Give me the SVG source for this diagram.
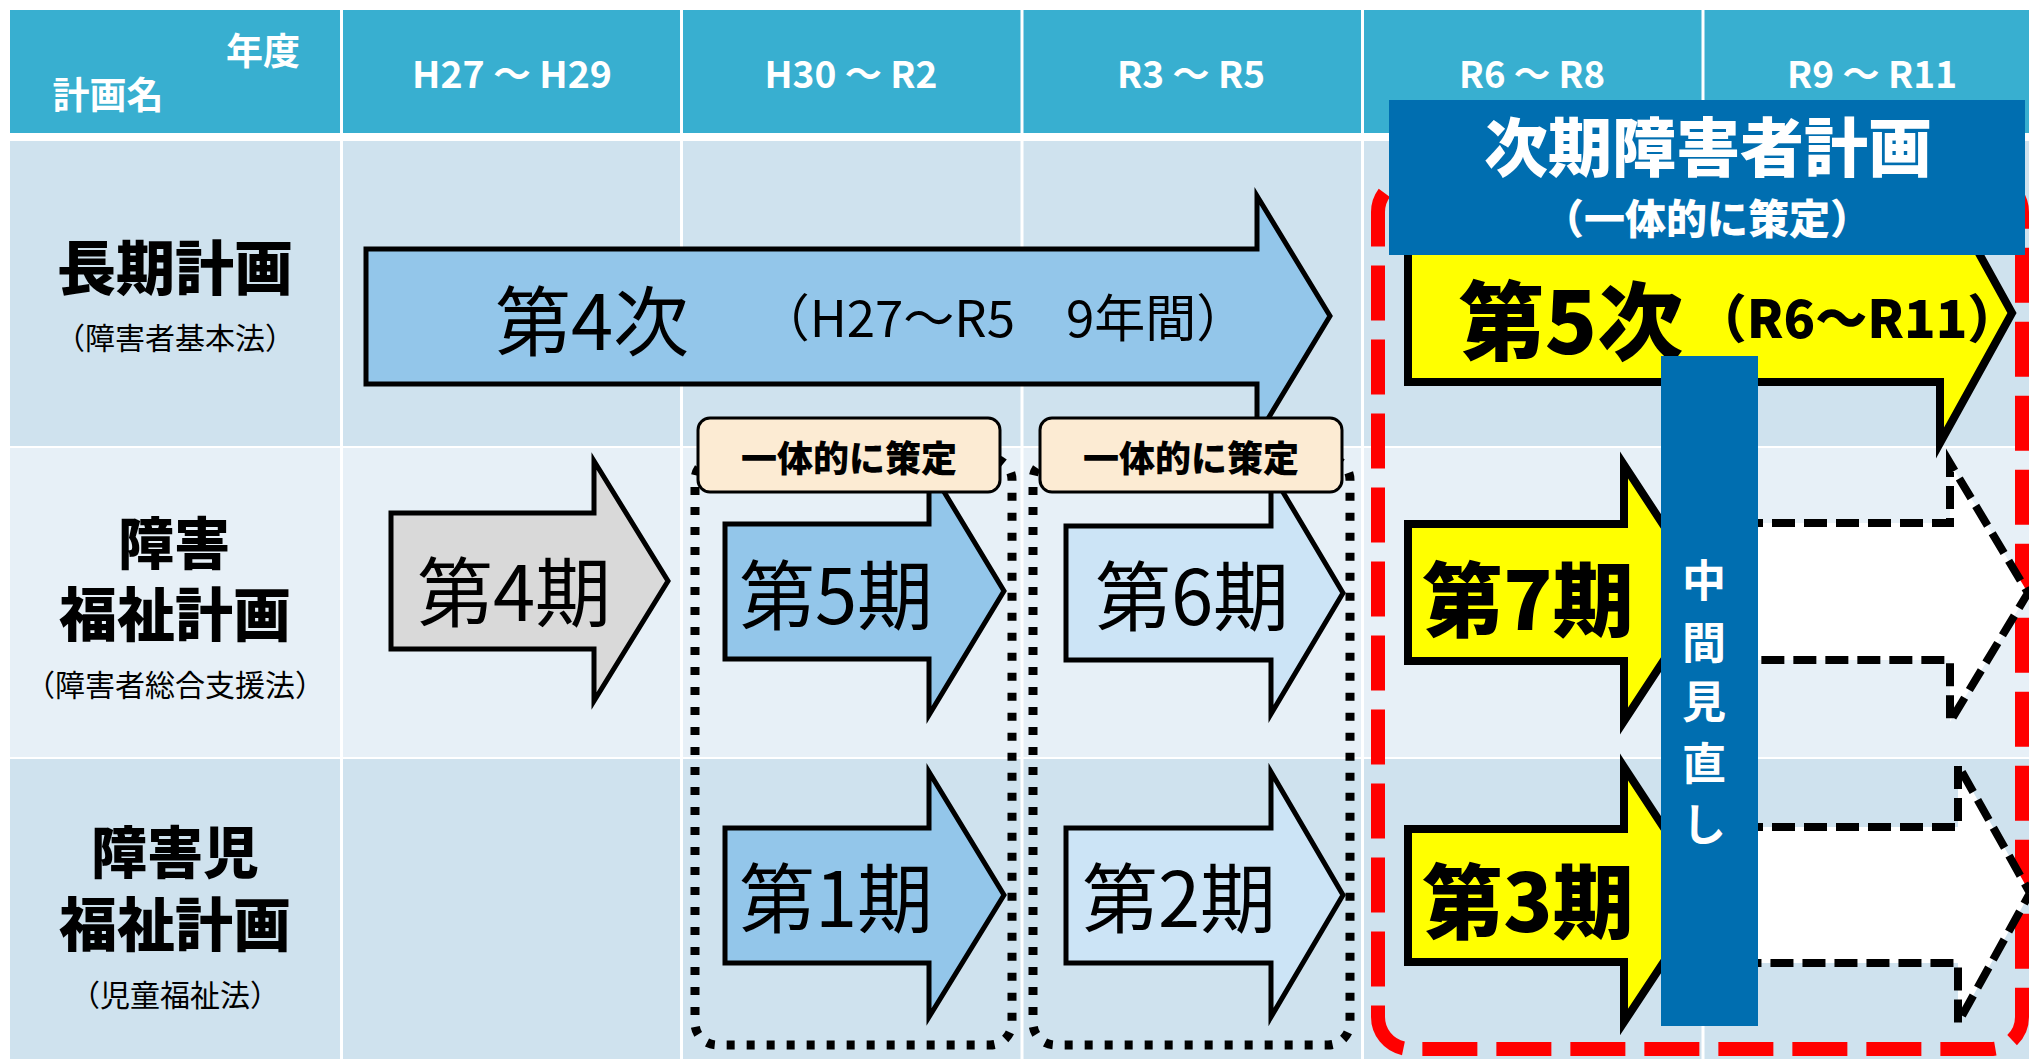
<svg xmlns="http://www.w3.org/2000/svg" width="2029" height="1059" viewBox="0 0 2029 1059">
<defs>
<style>
.t{font-family:"Noto Sans CJK JP","Noto Sans CJK SC",sans-serif;text-anchor:middle;dominant-baseline:central;fill:#000;}
.b{font-weight:700;}
.k{font-weight:900;}
.w{fill:#fff;}
.rowA{fill:#CFE2EE;}
.rowB{fill:#E7F0F7;}
.grid{stroke:#fff;stroke-width:3;}
.arr{stroke:#000;stroke-width:5;stroke-linejoin:miter;}
.arrY{fill:#FFFF00;stroke:#000;stroke-width:8;stroke-linejoin:miter;}
.arrD{fill:#fff;stroke:#000;stroke-width:8;stroke-dasharray:23 9;stroke-linejoin:miter;}
.dot{fill:none;stroke:#000;stroke-width:9;stroke-dasharray:8 12;}
.tag{fill:#FCEBD3;stroke:#000;stroke-width:3;}
</style>
</defs>
<rect x="0" y="0" width="2029" height="1059" fill="#fff"/>
<g id="table">
<rect x="10" y="10" width="2019" height="123" fill="#38AFD0"/>
<rect class="rowA" x="10" y="141" width="2019" height="305"/>
<rect class="rowB" x="10" y="448" width="2019" height="309"/>
<rect class="rowA" x="10" y="759" width="2019" height="300"/>
<line class="grid" x1="341.5" y1="10" x2="341.5" y2="1059"/>
<line class="grid" x1="681.5" y1="10" x2="681.5" y2="1059"/>
<line class="grid" x1="1022" y1="10" x2="1022" y2="1059"/>
<line class="grid" x1="1362.5" y1="10" x2="1362.5" y2="1059"/>
<line class="grid" x1="1703" y1="10" x2="1703" y2="1059"/>
<text class="t b w" x="263" y="49" font-size="37">年度</text>
<text class="t b w" x="108" y="93" font-size="37">計画名</text>
<text class="t b w" x="512" y="72" font-size="37" textLength="200" lengthAdjust="spacingAndGlyphs">H27 ～ H29</text>
<text class="t b w" x="851" y="72" font-size="37" textLength="173" lengthAdjust="spacingAndGlyphs">H30 ～ R2</text>
<text class="t b w" x="1191" y="72" font-size="37" textLength="148" lengthAdjust="spacingAndGlyphs">R3 ～ R5</text>
<text class="t b w" x="1532" y="72" font-size="37" textLength="146" lengthAdjust="spacingAndGlyphs">R6 ～ R8</text>
<text class="t b w" x="1872" y="72" font-size="37" textLength="170" lengthAdjust="spacingAndGlyphs">R9 ～ R11</text>
<text class="t k" x="175" y="264" font-size="59">長期計画</text>
<text class="t" x="175" y="336" font-size="30">（障害者基本法）</text>
<text class="t k" x="174" y="539" font-size="56">障害</text>
<text class="t k" x="175" y="611" font-size="58">福祉計画</text>
<text class="t" x="175" y="683" font-size="30">（障害者総合支援法）</text>
<text class="t k" x="175" y="848" font-size="56">障害児</text>
<text class="t k" x="175" y="921" font-size="58">福祉計画</text>
<text class="t" x="175" y="993" font-size="30">（児童福祉法）</text>
</g>
<g id="connectors"></g>
<g id="next-plan-frame">
<rect x="1378" y="180" width="644" height="869" rx="32" fill="none" stroke="#FF0000" stroke-width="14" stroke-dasharray="55 19"/>
</g>
<g id="joint-frame-1">
<rect class="dot" x="695" y="458" width="317" height="587" rx="22"/>
</g>
<g id="joint-frame-2">
<rect class="dot" x="1033" y="458" width="317" height="587" rx="22"/>
</g>
<g id="long-4">
<path class="arr" fill="#93C6EA" d="M366,249 L1257,249 L1257,196 L1330,316 L1257,437 L1257,384 L366,384 Z"/>
<text class="t" x="592" y="317" font-size="76">第4次</text>
<text class="t" x="1003" y="315" font-size="51">（H27～R5　9年間）</text>
</g>
<g id="welfare-4">
<path class="arr" fill="#D9D9D9" stroke-width="4" d="M391,513 L594,513 L594,461 L668,581 L594,701 L594,649 L391,649 Z"/>
<text class="t" x="514" y="588" font-size="76">第4期</text>
</g>
<g id="welfare-5">
<path class="arr" fill="#93C6EA" d="M725,524 L929,524 L929,467 L1004,591 L929,715 L929,659 L725,659 Z"/>
<text class="t" x="836" y="591" font-size="76">第5期</text>
</g>
<g id="child-1">
<path class="arr" fill="#93C6EA" d="M725,828 L929,828 L929,772 L1004,895 L929,1017 L929,963 L725,963 Z"/>
<text class="t" x="836" y="894" font-size="76">第1期</text>
</g>
<g id="welfare-6">
<path class="arr" fill="#CCE4F6" d="M1066,526 L1271,526 L1271,472 L1343,593 L1271,714 L1271,660 L1066,660 Z"/>
<text class="t" x="1192" y="592" font-size="76">第6期</text>
</g>
<g id="child-2">
<path class="arr" fill="#CCE4F6" d="M1066,828 L1271,828 L1271,772 L1343,895 L1271,1017 L1271,963 L1066,963 Z"/>
<text class="t" x="1179" y="894" font-size="76">第2期</text>
</g>
<g id="long-5">
<path class="arrY" d="M1408,244 L1940,244 L1940,183 L2012,313 L1940,443 L1940,382 L1408,382 Z"/>
<text class="t k" x="1571" y="316" font-size="86">第5次</text>
<text class="t k" x="1857" y="315" font-size="52">（R6～R11）</text>
</g>
<g id="welfare-7">
<path class="arrY" d="M1408,524 L1624,524 L1624,465 L1708,593 L1624,721 L1624,661 L1408,661 Z"/>
<text class="t k" x="1528" y="594" font-size="81">第7期</text>
</g>
<g id="child-3">
<path class="arrY" d="M1408,829 L1624,829 L1624,767 L1708,895 L1624,1022 L1624,962 L1408,962 Z"/>
<text class="t k" x="1528" y="896" font-size="81">第3期</text>
</g>
<g id="welfare-8">
<path class="arrD" d="M1740,523 L1950,523 L1950,463 L2028,593 L1950,722 L1950,660 L1740,660"/>
</g>
<g id="child-4">
<path class="arrD" d="M1740,827 L1958,827 L1958,765 L2030,893 L1958,1023 L1958,963 L1740,963"/>
</g>
<g id="joint-tag-1">
<rect class="tag" x="698" y="418" width="302" height="74" rx="12"/>
<text class="t k" x="849" y="456" font-size="36">一体的に策定</text>
</g>
<g id="joint-tag-2">
<rect class="tag" x="1040" y="418" width="302" height="74" rx="12"/>
<text class="t k" x="1191" y="456" font-size="36">一体的に策定</text>
</g>
<g id="next-plan-title">
<rect x="1389" y="100" width="636" height="155" fill="#006EB0"/>
<text class="t k w" x="1708" y="143" font-size="64">次期障害者計画</text>
<text class="t k w" x="1707" y="216" font-size="41">（一体的に策定）</text>
</g>
<g id="midterm-review">
<rect x="1661" y="356" width="97" height="670" fill="#006EB0"/>
<text class="t b w" font-size="44" x="1704" y="578">中</text>
<text class="t b w" font-size="44" x="1704" y="640">間</text>
<text class="t b w" font-size="44" x="1704" y="699">見</text>
<text class="t b w" font-size="44" x="1704" y="761">直</text>
<text class="t b w" font-size="44" x="1704" y="822">し</text>
</g>
</svg>
